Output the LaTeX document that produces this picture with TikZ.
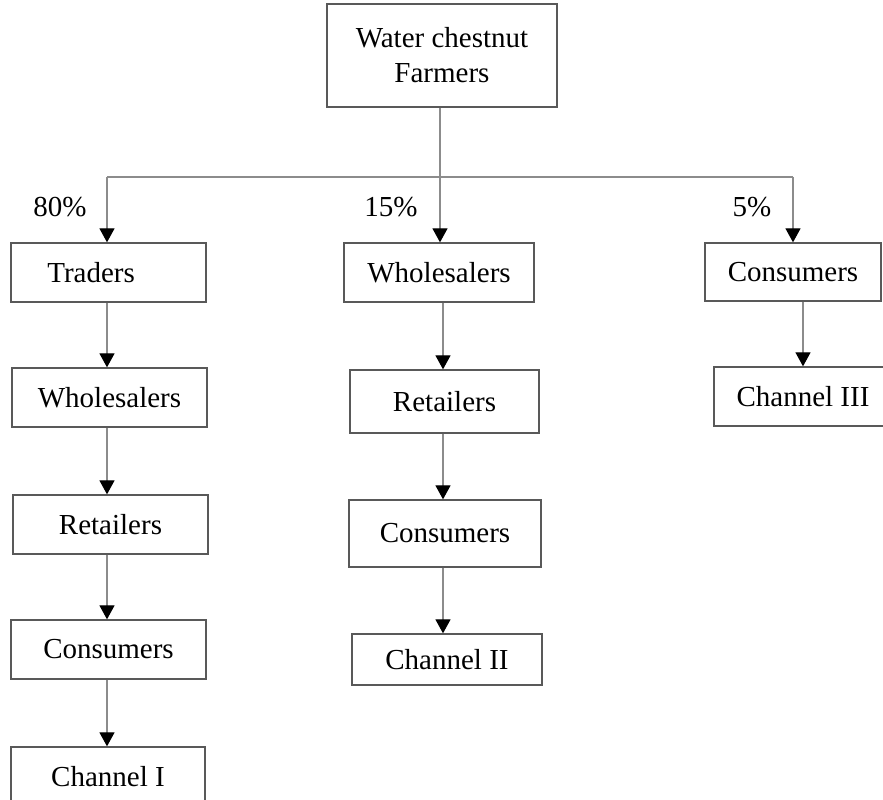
\documentclass[tikz,border=0pt]{standalone}
\usepackage{fontspec}
\setmainfont{Liberation Serif}
\usepackage{tikz}
\usetikzlibrary{arrows.meta}
\definecolor{linegray}{gray}{0.55}
\definecolor{boxgray}{gray}{0.35}
\tikzset{arrow/.style={draw=linegray, line width=1.3pt, -{Triangle[black, width=15pt, length=14pt]}}}
\tikzset{box/.style={draw=boxgray, line width=1.3pt, inner sep=0pt, minimum height=59pt}}

\begin{document}
\begin{tikzpicture}[x=1pt, y=1pt, font=\fontsize{29}{35}\selectfont]
		\useasboundingbox (0,0) rectangle (883,800);
		
		\node[box, minimum width=230pt, minimum height=103pt, align=center] (farmers) at (442,744.5) {Water chestnut\\Farmers};
		
		\node[box, minimum width=195pt] (traders) at (108.5,527.5) {Traders\hspace*{1.2em}};
		\node[box, minimum width=195pt] (wholesI) at (109.5,402.5) {Wholesalers};
		\node[box, minimum width=195pt] (retailI) at (110.5,275.5) {Retailers};
		\node[box, minimum width=195pt] (consumI) at (108.5,150.5) {Consumers};
		\node[box, minimum width=194pt] (chanI) at (108,23.5) {Channel I};
		
		\node[box, minimum width=190pt] (wholesII) at (439,527.5) {Wholesalers};
		\node[box, minimum width=189pt, minimum height=63pt] (retailII) at (444.5,398.5) {Retailers};
		\node[box, minimum width=192pt, minimum height=67pt] (consumII) at (445,266.5) {Consumers};
		\node[box, minimum width=190pt, minimum height=51pt] (chanII) at (447,140.5) {Channel II};
		
		\node[box, minimum width=176pt, minimum height=58pt] (consumIII) at (793,528) {Consumers};
		\node[box, minimum width=178pt] (chanIII) at (803,403.5) {Channel III};
		
		\node (pctI) at (60,593) {80\%};
		\node (pctII) at (391,593) {15\%};
		\node (pctIII) at (752,593) {5\%};
		
		\coordinate (split) at (440,623);
		\coordinate (splitI) at (107,623);
		\coordinate (splitIII) at (793,623);
		\coordinate (colII) at (443,0);
		\coordinate (colIII) at (803,0);
		
		\draw[draw=linegray, line width=1.3pt] (farmers.south -| split) -- (split);
		\draw[draw=linegray, line width=1.3pt] (splitI) -- (splitIII);
		\draw[arrow] (splitI) -- (splitI |- traders.north);
		\draw[arrow] (split) -- (split |- wholesII.north);
		\draw[arrow] (splitIII) -- (splitIII |- consumIII.north);
		
		\draw[arrow] (traders.south -| splitI) -- (wholesI.north -| splitI);
		\draw[arrow] (wholesI.south -| splitI) -- (retailI.north -| splitI);
		\draw[arrow] (retailI.south -| splitI) -- (consumI.north -| splitI);
		\draw[arrow] (consumI.south -| splitI) -- (chanI.north -| splitI);
		
		\draw[arrow] (wholesII.south -| colII) -- (retailII.north -| colII);
		\draw[arrow] (retailII.south -| colII) -- (consumII.north -| colII);
		\draw[arrow] (consumII.south -| colII) -- (chanII.north -| colII);
		
		\draw[arrow] (consumIII.south -| colIII) -- (chanIII.north -| colIII);
	\end{tikzpicture}
\end{document}
